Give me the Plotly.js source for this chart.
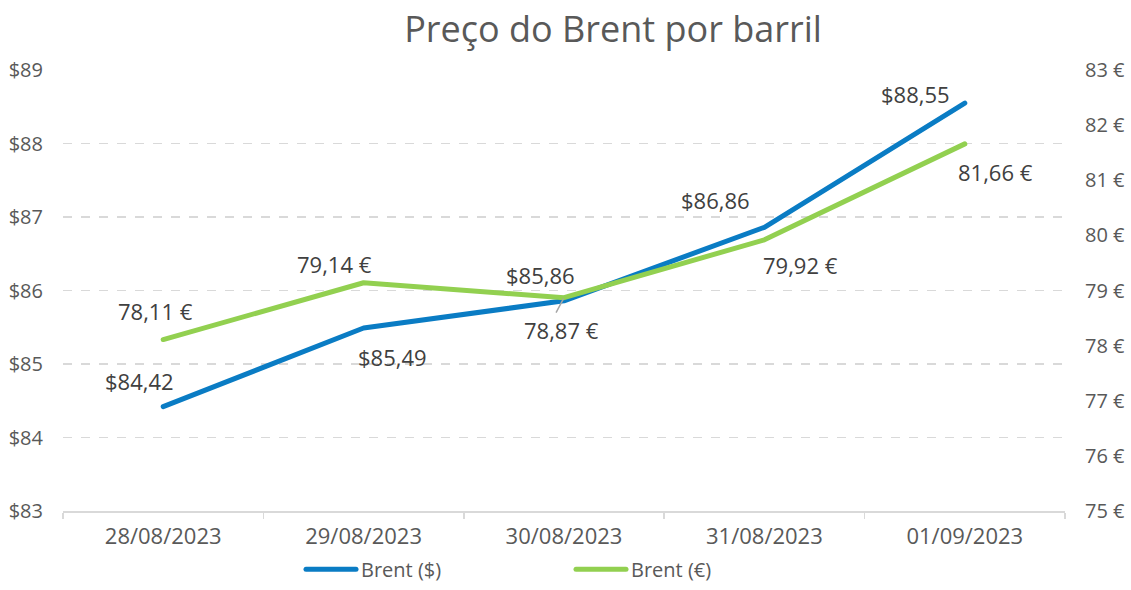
<!DOCTYPE html>
<html>
<head>
<meta charset="utf-8">
<script src="https://cdn.plot.ly/plotly-3.0.1.min.js"></script>
<style>html,body{margin:0;padding:0;background:#fff;}#chart{width:1131px;height:590px;}
#chart .scatterlayer .js-line, #chart .legendlines path{stroke-linecap:round;stroke-linejoin:round;}</style>
</head>
<body>
<div id="chart"></div>
<script>
var categories = ["28/08/2023", "29/08/2023", "30/08/2023", "31/08/2023", "01/09/2023"];
var brentUSD = [84.42, 85.49, 85.86, 86.86, 88.55];
var brentEUR = [78.11, 79.14, 78.87, 79.92, 81.66];
var seriesNames = ["Brent ($)", "Brent (€)"];

// label offsets (style only)
var usdOffsets = [[-24, 26], [29, -29], [-24, 26], [-49, 27], [-49, 9]];
var eurOffsets = [[-8, 29], [-29, 19], [-3, -32], [36, -25], [31, -28]];

var FONT = "'Open Sans', sans-serif";
var GREY = "#595959";
var BLUE = "#0A7CC4";
var GREEN = "#92D050";

function fmt(v){ return v.toFixed(2).replace('.', ','); }

var traces = [
  {x: categories, y: brentUSD, name: seriesNames[0], type: 'scatter', mode: 'lines',
   line: {color: BLUE, width: 5}, yaxis: 'y'},
  {x: categories, y: brentEUR, name: seriesNames[1], type: 'scatter', mode: 'lines',
   line: {color: GREEN, width: 5}, yaxis: 'y2'}
];

var labelFont = {family: FONT, size: 22, color: '#404040'};
var annotations = [];
brentUSD.forEach(function(v, i){
  annotations.push({x: categories[i], y: v, xref: 'x', yref: 'y', text: '$' + fmt(v),
    showarrow: false, xshift: usdOffsets[i][0], yshift: usdOffsets[i][1], font: labelFont});
});
brentEUR.forEach(function(v, i){
  annotations.push({x: categories[i], y: v, xref: 'x', yref: 'y2', text: fmt(v) + ' €',
    showarrow: false, xshift: eurOffsets[i][0], yshift: eurOffsets[i][1], font: labelFont});
});
// leader line for the 30/08 € label
annotations.push({x: categories[2], y: brentEUR[2], xref: 'x', yref: 'y2', text: ' ',
  showarrow: true, arrowhead: 0, arrowwidth: 1.5, arrowcolor: '#A6A6A6',
  ax: -9, ay: 17, standoff: 1, font: {size: 1}});

var layout = {
  width: 1131, height: 590,
  margin: {l: 63, r: 66, t: 70, b: 79},
  paper_bgcolor: '#fff', plot_bgcolor: '#fff',
  title: {text: 'Preço do Brent por barril', xref: 'container', x: 613/1131, xanchor: 'center',
    y: 1 - 29/590, yanchor: 'middle',
    font: {family: FONT, size: 36, color: GREY}},
  font: {family: FONT, color: GREY},
  showlegend: true,
  legend: {orientation: 'h', xref: 'container', x: 301/1131, xanchor: 'left',
    yref: 'container', y: 0.002, yanchor: 'bottom',
    font: {family: FONT, size: 20, color: GREY}, entrywidth: 205, entrywidthmode: 'pixels',
    itemwidth: 50},
  xaxis: {type: 'category', range: [-0.5, 4.5], showline: true, linecolor: '#D9D9D9', linewidth: 1.5,
    ticks: 'outside', tickson: 'boundaries', ticklen: 6, tickcolor: '#D9D9D9', tickwidth: 1.5,
    showgrid: false, tickfont: {family: FONT, size: 22, color: GREY}, ticklabelstandoff: 5, fixedrange: true},
  yaxis: {range: [83, 89], dtick: 1, tick0: 83, tickprefix: '$', showgrid: true,
    gridcolor: '#D9D9D9', gridwidth: 1.5, griddash: 'dash', zeroline: false, showline: false,
    ticks: '', tickfont: {family: FONT, size: 20, color: GREY}, ticklabelstandoff: 19},
  yaxis2: {range: [75, 83], dtick: 1, tick0: 75, ticksuffix: ' €', overlaying: 'y', side: 'right',
    showgrid: false, zeroline: false, showline: false, ticks: '',
    tickfont: {family: FONT, size: 20, color: GREY}, ticklabelstandoff: 19},
  annotations: annotations
};

Plotly.newPlot('chart', traces, layout, {displayModeBar: false, staticPlot: true});
</script>
</body>
</html>
